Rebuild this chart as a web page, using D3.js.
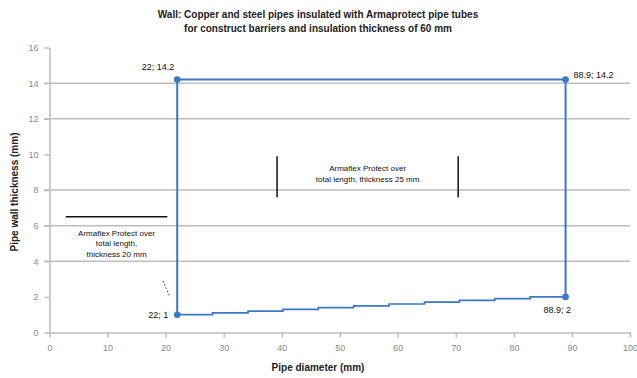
<!DOCTYPE html>
<html><head><meta charset="utf-8">
<script src="https://cdn.jsdelivr.net/npm/d3@7/dist/d3.min.js"></script>
<style>body{margin:0;background:#fff;font-family:"Liberation Sans",Arial,sans-serif;}</style>
</head><body><svg id="c" width="637" height="378"></svg>
<script>
const titleLines = ["Wall: Copper and steel pipes insulated with Armaprotect pipe tubes","for construct barriers and insulation thickness of 60 mm"];
const xTicks = [0,10,20,30,40,50,60,70,80,90,100];
const yTicks = [0,2,4,6,8,10,12,14,16];
const yGrid = [4,6,8,12,14];
// boundary outline (min diameter / max diameter / max wall)
const outlineX = [22, 22, 88.9, 88.9];
const outlineY = [1, 14.2, 14.2, 2];
// lower staircase limit
const stepX = [22, 28.1, 34.2, 40.2, 46.3, 52.4, 58.5, 64.6, 70.6, 76.7, 82.8, 88.9];
const stepY = [1.0, 1.1, 1.2, 1.3, 1.4, 1.5, 1.6, 1.7, 1.8, 1.9, 2.0, 2.0];
const pointLabels = ["22; 1","22; 14.2","88.9; 14.2","88.9; 2"];
const note20 = ["Armaflex Protect over","total length,","thickness 20 mm"];
const note25 = ["Armaflex Protect over","total length, thickness 25 mm"];
const note20Line = {x:[2.8,20.3], y:6.5};
const note25Bars = {x:[39.2,70.4], y:[7.6,9.9]};

const svg = d3.select("#c");
const x = d3.scaleLinear().domain([0,100]).range([49.5,630]);
const y = d3.scaleLinear().domain([0,16]).range([332.5,47.5]);

// title
svg.append("g").selectAll("text").data(titleLines).join("text")
  .attr("x",318).attr("y",18).attr("dy",(d,i)=>i*14).attr("text-anchor","middle")
  .attr("font-size",10).attr("font-weight","bold").attr("fill","#222").text(d=>d);

// gridlines
svg.append("g").selectAll("line").data(yGrid).join("line")
  .attr("x1",44).attr("x2",x(100)).attr("y1",d=>y(d)).attr("y2",d=>y(d))
  .attr("stroke","#bdbdbd").attr("stroke-width",1.5);

// axes
const gx = svg.append("g").attr("transform",`translate(0,${y(0)})`)
  .call(d3.axisBottom(x).tickValues(xTicks).tickSize(5).tickPadding(5).tickSizeOuter(0));
const gy = svg.append("g").attr("transform",`translate(${x(0)},0)`)
  .call(d3.axisLeft(y).tickValues(yTicks).tickSize(5).tickPadding(6).tickSizeOuter(0));
[gx,gy].forEach(g=>{
  g.select(".domain").attr("stroke","#bdbdbd").attr("stroke-width",1.5);
  g.selectAll(".tick line").attr("stroke","#bdbdbd").attr("stroke-width",1.5);
  g.selectAll(".tick text").attr("fill","#8a8a8a").attr("font-size",9).attr("font-family","Liberation Sans,Arial,sans-serif");
});
gx.selectAll(".tick text").attr("dy","0.9em");

// axis titles
svg.append("text").attr("x",318).attr("y",371).attr("text-anchor","middle")
  .attr("font-size",10).attr("font-weight","bold").attr("fill","#222").text("Pipe diameter (mm)");
svg.append("text").attr("transform","translate(18,192) rotate(-90)").attr("text-anchor","middle")
  .attr("font-size",10).attr("font-weight","bold").attr("fill","#222").text("Pipe wall thickness (mm)");

const blue = "#3c78c3";
// outline
const outline = outlineX.map((v,i)=>[v,outlineY[i]]);
svg.append("path").datum(outline)
  .attr("d",d3.line().x(d=>x(d[0])).y(d=>y(d[1])))
  .attr("fill","none").attr("stroke",blue).attr("stroke-width",2);
// staircase
const steps = stepX.map((v,i)=>[v,stepY[i]]);
svg.append("path").datum(steps)
  .attr("d",d3.line().curve(d3.curveStepAfter).x(d=>x(d[0])).y(d=>y(d[1])))
  .attr("fill","none").attr("stroke",blue).attr("stroke-width",1.7);
// markers
svg.append("g").selectAll("circle").data(outline).join("circle")
  .attr("cx",d=>x(d[0])).attr("cy",d=>y(d[1])).attr("r",3.3).attr("fill",blue);

// point labels
const lab = svg.append("g").attr("font-size",9).attr("fill","#111");
lab.append("text").attr("x",x(22)-9).attr("y",y(1)+3).attr("text-anchor","end").text(pointLabels[0]);
lab.append("text").attr("x",x(22)-3).attr("y",y(14.2)-10).attr("text-anchor","end").text(pointLabels[1]);
lab.append("text").attr("x",x(88.9)+8).attr("y",y(14.2)-2).attr("text-anchor","start").text(pointLabels[2]);
lab.append("text").attr("x",x(88.9)-22).attr("y",y(2)+16).attr("text-anchor","start").text(pointLabels[3]);
// leader for "22; 1"
svg.append("line").attr("x1",163).attr("y1",281).attr("x2",170).attr("y2",297)
  .attr("stroke","#333").attr("stroke-width",1).attr("stroke-dasharray","1.5,2");

// notes
svg.append("line").attr("x1",x(note20Line.x[0])).attr("x2",x(note20Line.x[1]))
  .attr("y1",y(note20Line.y)).attr("y2",y(note20Line.y)).attr("stroke","#111").attr("stroke-width",1.5);
svg.append("g").selectAll("text").data(note20).join("text")
  .attr("x",(x(note20Line.x[0])+x(note20Line.x[1]))/2).attr("y",y(note20Line.y)).attr("dy",(d,i)=>19+i*10.5).attr("text-anchor","middle")
  .attr("font-size",8).attr("fill","#111").text(d=>d);
svg.append("g").selectAll("line").data(note25Bars.x).join("line")
  .attr("x1",d=>x(d)).attr("x2",d=>x(d)).attr("y1",y(note25Bars.y[1])).attr("y2",y(note25Bars.y[0]))
  .attr("stroke","#111").attr("stroke-width",1.5);
svg.append("g").selectAll("text").data(note25).join("text")
  .attr("x",(x(note25Bars.x[0])+x(note25Bars.x[1]))/2).attr("y",171).attr("dy",(d,i)=>i*11).attr("text-anchor","middle")
  .attr("font-size",8).attr("fill","#111").text(d=>d);
</script></body></html>
